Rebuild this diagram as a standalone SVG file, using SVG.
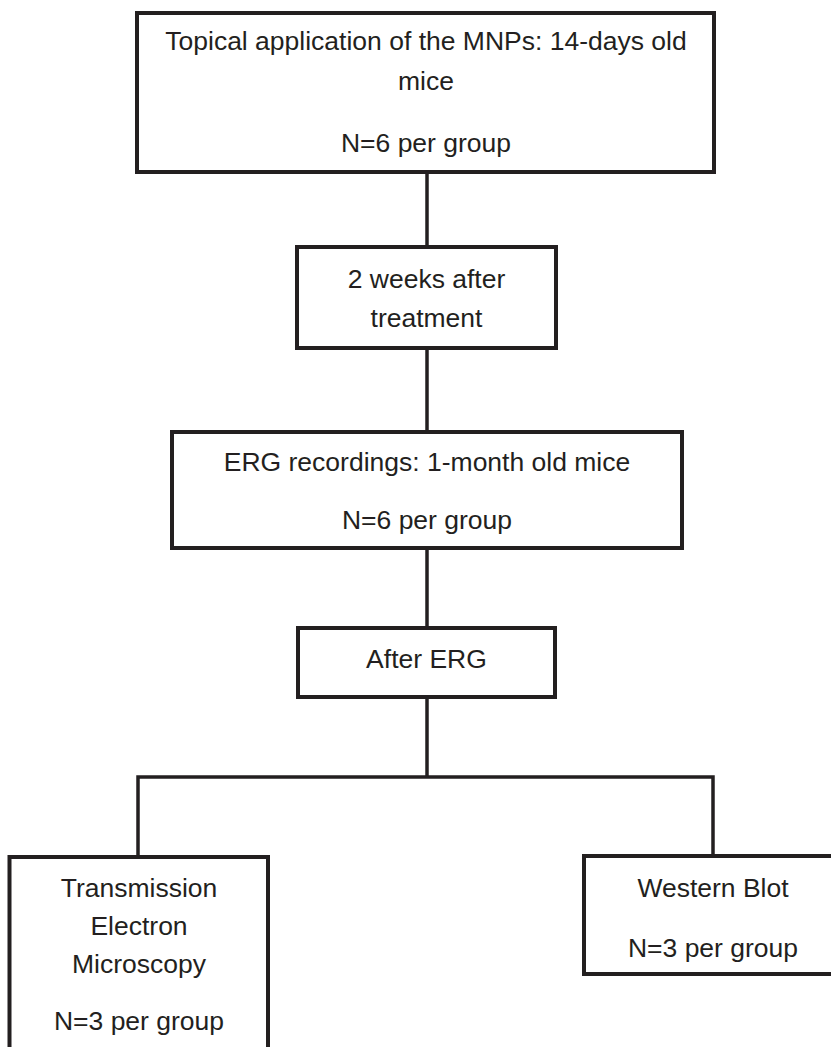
<svg xmlns="http://www.w3.org/2000/svg" width="831" height="1047" viewBox="0 0 831 1047">
<style>
.box{fill:#ffffff;stroke:#231f20;stroke-width:4}
.con{fill:none;stroke:#231f20;stroke-width:3.5}
text{font-family:"Liberation Sans",Arial,sans-serif;font-size:26.5px;fill:#231f20;text-anchor:middle}
</style>
<rect x="0" y="0" width="831" height="1047" fill="#ffffff"/>
<g id="connectors">
<line class="con" x1="427" y1="172" x2="427" y2="247"/>
<line class="con" x1="427" y1="348" x2="427" y2="432"/>
<line class="con" x1="427" y1="548" x2="427" y2="628"/>
<line class="con" x1="427" y1="697" x2="427" y2="777"/>
<polyline class="con" points="138,857 138,777 713,777 713,856"/>
</g>
<g id="node-topical">
<rect class="box" x="137" y="13" width="577" height="159"/>
<text x="426" y="50">Topical application of the MNPs: 14-days old</text>
<text x="426" y="90">mice</text>
<text x="426" y="152">N=6 per group</text>
</g>
<g id="node-2weeks">
<rect class="box" x="297" y="247" width="259" height="101"/>
<text x="426.5" y="288">2 weeks after</text>
<text x="426.5" y="327">treatment</text>
</g>
<g id="node-erg">
<rect class="box" x="172" y="432" width="510" height="116"/>
<text x="427" y="471">ERG recordings: 1-month old mice</text>
<text x="427" y="529">N=6 per group</text>
</g>
<g id="node-after-erg">
<rect class="box" x="298" y="628" width="257" height="69"/>
<text x="426.5" y="668">After ERG</text>
</g>
<g id="node-tem">
<rect class="box" x="9.5" y="857" width="258.5" height="210"/>
<text x="139" y="897">Transmission</text>
<text x="139" y="935">Electron</text>
<text x="139" y="973">Microscopy</text>
<text x="139" y="1030">N=3 per group</text>
</g>
<g id="node-western">
<rect class="box" x="584" y="856" width="258" height="118"/>
<text x="713" y="897">Western Blot</text>
<text x="713" y="957">N=3 per group</text>
</g>
</svg>
